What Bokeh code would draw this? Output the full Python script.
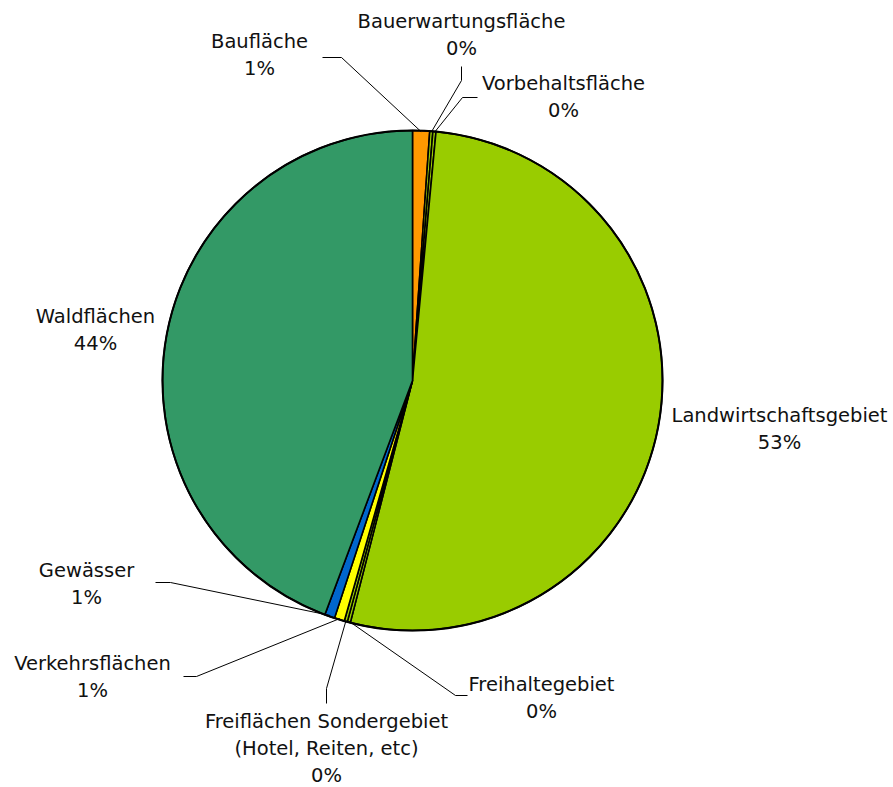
import math
from bokeh.plotting import figure
from bokeh.models import Range1d, ColumnDataSource
from bokeh.core.properties import value
from bokeh.embed import file_html
from bokeh.resources import INLINE

# ---- data ----
categories = ["Baufläche", "Bauerwartungsfläche", "Vorbehaltsfläche",
              "Landwirtschaftsgebiet", "Freihaltegebiet",
              "Freiflächen Sondergebiet\n(Hotel, Reiten, etc)",
              "Verkehrsflächen", "Gewässer", "Waldflächen"]
shares = [1.1, 0.2, 0.2, 52.5, 0.2, 0.2, 0.65, 0.65, 44.3]
colors = ["#FF9900", "#99CC00", "#99CC00", "#99CC00", "#99CC00", "#99CC00",
          "#FFFF00", "#0066CC", "#339966"]

# ---- layout (pixel space, y down) ----
W, H = 893, 787
CX, CY, R = 412, 380, 250
label_x = [259, 461, 563, 779, 541, 326, 92, 86, 95]
label_top_baseline = [41, 21, 83, 415, 684, 721, 663, 570, 316]
LINE_STEP = 26.8
elbows = [[(341, 57), (322, 57)],
          [(461, 80), (461, 66)],
          [(462, 97), (477, 97)],
          None,
          [(455, 695), (467, 695)],
          [(326, 688), (326, 703)],
          [(196, 676), (183, 676)],
          [(170, 582), (155, 582)],
          None]

def fy(y):
    return H - y

p = figure(width=W, height=H, output_backend="svg", toolbar_location=None,
           x_range=Range1d(0, W), y_range=Range1d(0, H), min_border=0)
p.axis.visible = False
p.grid.visible = False
p.outline_line_color = None
p.background_fill_color = "white"
p.border_fill_color = "white"

total = sum(shares)
starts, ends, mids = [], [], []
acc = 0.0
for v in shares:
    a0 = acc / total
    acc += v
    a1 = acc / total
    starts.append(math.pi / 2 - 2 * math.pi * a1)
    ends.append(math.pi / 2 - 2 * math.pi * a0)
    mids.append((a0 + a1) / 2)

src = ColumnDataSource(dict(start=starts, end=ends, color=colors))
p.wedge(x=CX, y=fy(CY), radius=R, start_angle="start", end_angle="end",
        fill_color="color", line_color="black", line_width=1.6, source=src)
p.circle(x=CX, y=fy(CY), radius=R, fill_color=None, line_color="black", line_width=2)

# leader lines
for m, el in zip(mids, elbows):
    if el is None:
        continue
    ang = 2 * math.pi * m
    px = CX + (R - 1) * math.sin(ang)
    py = CY - (R - 1) * math.cos(ang)
    xs = [px] + [e[0] for e in el]
    ys = [fy(py)] + [fy(e[1]) for e in el]
    p.line(xs, ys, line_color="black", line_width=1)

def pct(v):
    return "%d%%" % int(v / total * 100 + 0.5)

tx, ty, tt = [], [], []
for c, v, x0, y0 in zip(categories, shares, label_x, label_top_baseline):
    lines = c.split("\n") + [pct(v)]
    for i, ln in enumerate(lines):
        tx.append(x0)
        ty.append(fy(y0 + i * LINE_STEP))
        tt.append(ln)

lsrc = ColumnDataSource(dict(x=tx, y=ty, t=tt))
p.text(x="x", y="y", text="t", source=lsrc, text_align="center",
       text_baseline="alphabetic", text_font=value("DejaVu Sans"),
       text_font_size="19.5px", text_color="#111111")

open("out.html", "w").write(file_html(p, INLINE))
